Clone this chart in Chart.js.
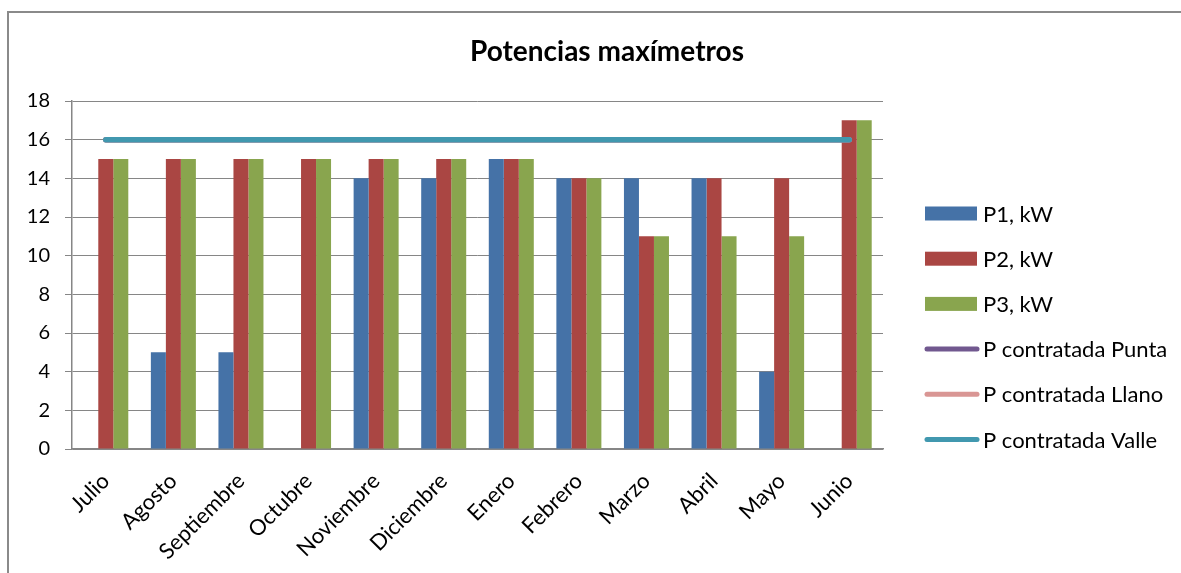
<!DOCTYPE html>
<html>
<head>
<meta charset="utf-8">
<script src="https://cdn.jsdelivr.net/npm/chart.js@4/dist/chart.umd.min.js"></script>
<style>
  html, body { margin: 0; padding: 0; background: #fff; }
  #wrap { position: relative; width: 1181px; height: 573px; }
</style>
</head>
<body>
<div id="wrap"><canvas id="c" width="1181" height="573"></canvas></div>
<script>
const chartTitle = 'Potencias maxímetros';
const categories = ['Julio', 'Agosto', 'Septiembre', 'Octubre', 'Noviembre', 'Diciembre', 'Enero', 'Febrero', 'Marzo', 'Abril', 'Mayo', 'Junio'];
const p1 = [0, 5, 5, 0, 14, 14, 15, 14, 14, 14, 4, 0];
const p2 = [15, 15, 15, 15, 15, 15, 15, 14, 11, 14, 14, 17];
const p3 = [15, 15, 15, 15, 15, 15, 15, 14, 11, 11, 11, 17];
const contratadaPunta = [16, 16, 16, 16, 16, 16, 16, 16, 16, 16, 16, 16];
const contratadaLlano = [16, 16, 16, 16, 16, 16, 16, 16, 16, 16, 16, 16];
const contratadaValle = [16, 16, 16, 16, 16, 16, 16, 16, 16, 16, 16, 16];
const yTicks = [0, 2, 4, 6, 8, 10, 12, 14, 16, 18];

const FONT = 'Lato, "Liberation Sans", sans-serif';
const GRID = '#868686';

const decorPlugin = {
  id: 'decor',
  beforeDraw(chart) {
    const ctx = chart.ctx;
    ctx.save();
    ctx.strokeStyle = '#8a8a8a';
    ctx.lineWidth = 2;
    ctx.strokeRect(8, 12, 2000, 2000);
    ctx.restore();
  },
  afterDraw(chart) {
    const ctx = chart.ctx;
    ctx.save();
    // title
    ctx.fillStyle = '#000';
    ctx.font = 'bold 28px ' + FONT;
    ctx.textAlign = 'center';
    ctx.textBaseline = 'middle';
    ctx.fillText(chartTitle, 607, 52);
    // legend
    const startY = 213.5, step = 45.2;
    ctx.font = '22px ' + FONT;
    ctx.textAlign = 'left';
    chart.data.datasets.forEach((ds, i) => {
      const y = startY + i * step;
      if (ds.type === 'line') {
        ctx.strokeStyle = ds.borderColor;
        ctx.lineWidth = 5;
        ctx.lineCap = 'round';
        ctx.beginPath();
        ctx.moveTo(927, y);
        ctx.lineTo(977, y);
        ctx.stroke();
      } else {
        ctx.fillStyle = ds.backgroundColor;
        ctx.fillRect(925, y - 7, 52, 14);
      }
      ctx.fillStyle = '#000';
      ctx.fillText(ds.label, 983, y + 1);
    });
    ctx.restore();
  }
};

const barDs = (label, data, color) => ({
  type: 'bar', label, data, backgroundColor: color, borderWidth: 0,
  categoryPercentage: 0.666, barPercentage: 1, order: 0
});
const lineDs = (label, data, color, order) => ({
  type: 'line', label, data, borderColor: color, backgroundColor: color,
  borderWidth: 5.5, borderCapStyle: 'round', pointRadius: 0, pointHoverRadius: 0,
  tension: 0, fill: false, order
});

new Chart(document.getElementById('c'), {
  data: {
    labels: categories,
    datasets: [
      barDs('P1, kW', p1, '#4572A7'),
      barDs('P2, kW', p2, '#AA4643'),
      barDs('P3, kW', p3, '#89A54E'),
      lineDs('P contratada Punta', contratadaPunta, '#71588F', -1),
      lineDs('P contratada Llano', contratadaLlano, '#D99694', -2),
      lineDs('P contratada Valle', contratadaValle, '#4198AF', -3)
    ]
  },
  options: {
    responsive: false,
    animation: false,
    events: [],
    layout: { padding: { left: 0, top: 101, right: 298, bottom: 0 } },
    plugins: { legend: { display: false }, title: { display: false }, tooltip: { enabled: false } },
    scales: {
      x: {
        grid: { display: false, drawTicks: false },
        border: { display: true, color: GRID, width: 1.5 },
        ticks: { color: '#000', font: { family: FONT, size: 22 }, maxRotation: 45, minRotation: 45, padding: 19, autoSkip: false },
        afterFit: (s) => { s.height = 124; }
      },
      y: {
        min: 0, max: 18,
        afterBuildTicks: (s) => { s.ticks = yTicks.map(v => ({ value: v })); },
        grid: { color: GRID, lineWidth: 1, tickLength: 7, drawTicks: true },
        border: { display: true, color: GRID, width: 1.5 },
        ticks: { color: '#000', font: { family: FONT, size: 20 }, padding: 15 },
        afterFit: (s) => { s.width = 72; }
      }
    }
  },
  plugins: [decorPlugin]
});
</script>
</body>
</html>
